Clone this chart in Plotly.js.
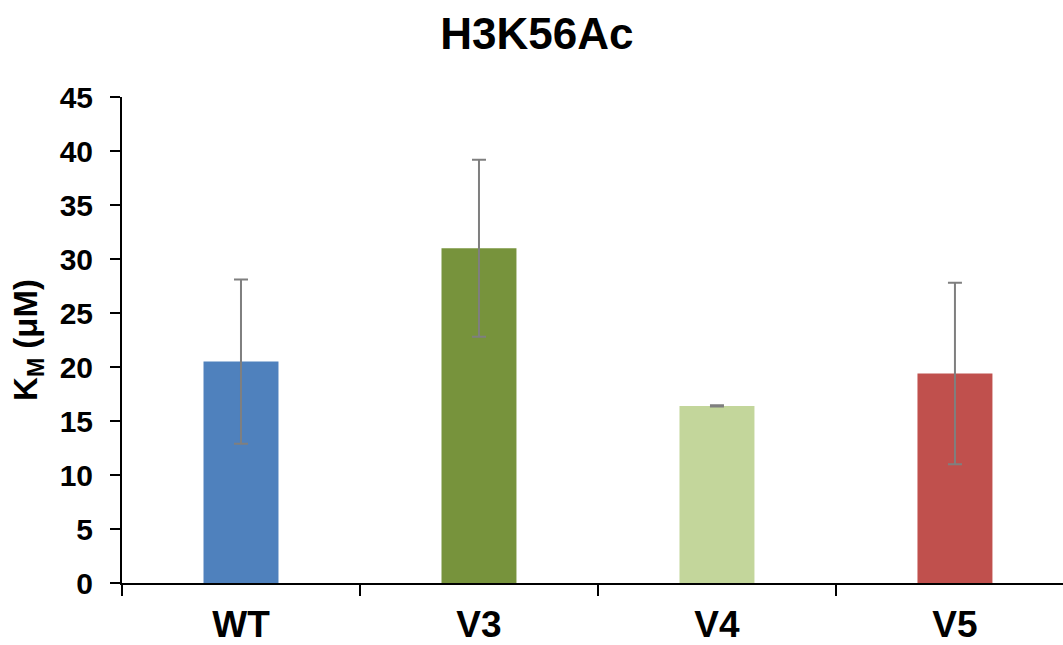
<!DOCTYPE html>
<html><head><meta charset="utf-8">
<script src="https://cdn.plot.ly/plotly-3.0.1.min.js"></script>
<style>html,body{margin:0;padding:0;background:#fff;overflow:hidden}</style>
</head><body>
<div id="chart" style="width:1063px;height:645px"></div>
<script>
const categories = ["WT", "V3", "V4", "V5"];
const kmValues = [20.5, 31.0, 16.4, 19.4];
const kmErrors = [7.6, 8.2, 0.05, 8.4];
const barColors = ["#4F81BD", "#77933C", "#C3D69B", "#C0504D"];
const yTicks = [0, 5, 10, 15, 20, 25, 30, 35, 40, 45];

const trace = {
  type: "bar",
  x: categories,
  y: kmValues,
  marker: {color: barColors},
  error_y: {type: "data", array: kmErrors, visible: true, color: "#7F7F7F", thickness: 2, width: 7},
  hoverinfo: "x+y"
};

const font = "Liberation Sans, Arial, sans-serif";
const layout = {
  width: 1063, height: 645,
  margin: {l: 122, r: 0, t: 97, b: 62},
  paper_bgcolor: "#fff", plot_bgcolor: "#fff",
  bargap: 0.685,
  showlegend: false,
  title: {text: "<b>H3K56Ac</b>", x: 0.505, xanchor: "center", y: 0.948, yanchor: "middle",
          font: {family: font, size: 44, color: "#000"}},
  xaxis: {
    range: [-0.5, 3.454],
    showline: true, linecolor: "#000", linewidth: 2,
    ticks: "outside", ticklen: 11, tickwidth: 2, tickcolor: "#000",
    tickson: "boundaries",
    ticklabelstandoff: 8,
    tickfont: {family: font, size: 37, color: "#000", weight: "bold"},
    showgrid: false, zeroline: false, fixedrange: true
  },
  yaxis: {
    range: [0, 45], tickvals: yTicks,
    showline: true, linecolor: "#000", linewidth: 2,
    ticks: "outside", ticklen: 10, tickwidth: 2, tickcolor: "#000",
    tickfont: {family: font, size: 30, color: "#000", weight: "bold"},
    ticklabelstandoff: 11,
    showgrid: false, zeroline: false, fixedrange: true,
    title: {text: "<b>K<sub>M</sub> (μM)</b>", standoff: 12, font: {family: font, size: 33, color: "#000"}}
  }
};
Plotly.newPlot("chart", [trace], layout, {displayModeBar: false, staticPlot: true});
</script>
</body></html>
